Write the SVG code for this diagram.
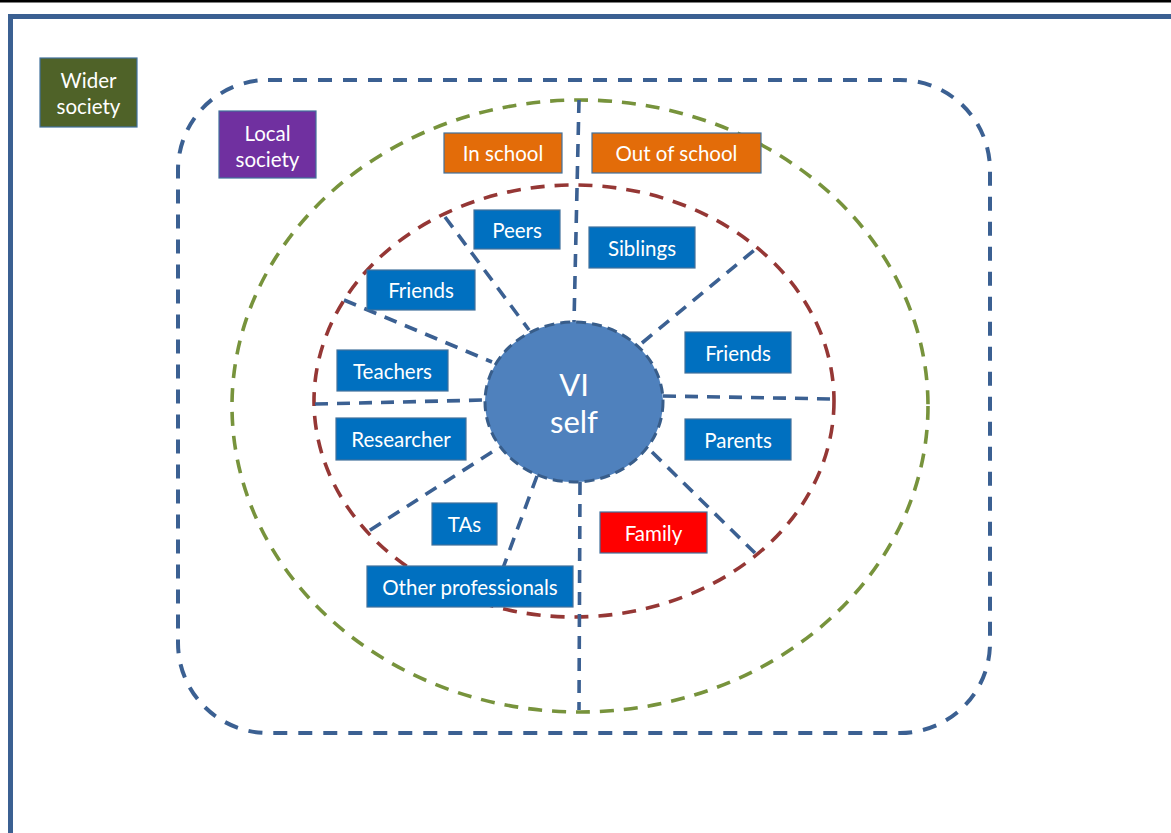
<svg xmlns="http://www.w3.org/2000/svg" width="1171" height="833" viewBox="0 0 1171 833">
<style>
.box{stroke:#41719C;stroke-width:1.2}
.blue{fill:#0070C0}
.lbl{font-family:Lato,"Open Sans","Liberation Sans",sans-serif;font-size:20.5px;fill:#fff;text-anchor:middle;dominant-baseline:central}
.big{font-size:31px}
.spoke{stroke:#3B6092;stroke-width:3.6;stroke-dasharray:13 9;fill:none}
</style>
<rect width="1171" height="833" fill="#fff"/>
<rect x="0" y="0" width="1171" height="2.5" fill="#000"/>
<rect x="10.5" y="16.5" width="1300" height="900" fill="none" stroke="#3B6092" stroke-width="5"/>

<g id="rings">
<rect x="178" y="80" width="812" height="653" rx="90" ry="90" fill="none" stroke="#3B6092" stroke-width="4" stroke-dasharray="14 11"/>
<ellipse cx="580" cy="406" rx="348" ry="306" fill="none" stroke="#77933C" stroke-width="3.6" stroke-dasharray="14 10"/>
<ellipse cx="574" cy="401" rx="260" ry="216" fill="none" stroke="#953735" stroke-width="3.6" stroke-dasharray="14 10"/>
</g>

<g id="connectors">
<line class="spoke" x1="579" y1="100" x2="574" y2="322"/>
<line class="spoke" x1="580" y1="482" x2="579" y2="710"/>
<line class="spoke" x1="315" y1="404" x2="485" y2="400"/>
<line class="spoke" x1="663" y1="396" x2="834" y2="399"/>
<line class="spoke" x1="445" y1="217" x2="529" y2="330"/>
<line class="spoke" x1="344" y1="300" x2="492" y2="362"/>
<line class="spoke" x1="642" y1="343" x2="758" y2="247"/>
<line class="spoke" x1="652" y1="452" x2="755" y2="553"/>
<line class="spoke" x1="492" y1="452" x2="367" y2="532"/>
<line class="spoke" x1="537" y1="476" x2="503" y2="568"/>
</g>

<g id="vi-self">
<ellipse cx="574" cy="402" rx="89" ry="80" fill="#4F81BD" stroke="#385D8A" stroke-width="3" stroke-dasharray="10 6"/>
<text x="574" y="384" class="lbl big">VI</text>
<text x="574" y="421" class="lbl big">self</text>
</g>

<g id="wider-society">
<rect class="box" x="40" y="58" width="97" height="69" fill="#4F6228"/>
<text x="88.5" y="80" class="lbl">Wider</text>
<text x="88.5" y="106" class="lbl">society</text>
</g>
<g id="local-society">
<rect class="box" x="219" y="111" width="97" height="67" fill="#7030A0"/>
<text x="267.5" y="133" class="lbl">Local</text>
<text x="267.5" y="159" class="lbl">society</text>
</g>
<g id="in-school">
<rect class="box" x="444" y="133" width="118" height="40" fill="#E36C09"/>
<text x="503" y="153" class="lbl">In school</text>
</g>
<g id="out-of-school">
<rect class="box" x="592" y="133" width="169" height="40" fill="#E36C09"/>
<text x="676.5" y="153" class="lbl">Out of school</text>
</g>
<g id="peers">
<rect class="box blue" x="474" y="210" width="86" height="39"/>
<text x="517" y="229.5" class="lbl">Peers</text>
</g>
<g id="siblings">
<rect class="box blue" x="589" y="227" width="106" height="41"/>
<text x="642" y="247.5" class="lbl">Siblings</text>
</g>
<g id="friends-school">
<rect class="box blue" x="367" y="270" width="108" height="40"/>
<text x="421" y="290" class="lbl">Friends</text>
</g>
<g id="teachers">
<rect class="box blue" x="337" y="350" width="111" height="41"/>
<text x="392.5" y="370.5" class="lbl">Teachers</text>
</g>
<g id="researcher">
<rect class="box blue" x="336" y="418" width="130" height="42"/>
<text x="401" y="439" class="lbl">Researcher</text>
</g>
<g id="friends-out">
<rect class="box blue" x="685" y="332" width="106" height="41"/>
<text x="738" y="352.5" class="lbl">Friends</text>
</g>
<g id="parents">
<rect class="box blue" x="685" y="419" width="106" height="41"/>
<text x="738" y="439.5" class="lbl">Parents</text>
</g>
<g id="tas">
<rect class="box blue" x="432" y="503" width="65" height="42"/>
<text x="464.5" y="524" class="lbl">TAs</text>
</g>
<g id="family">
<rect class="box" x="600" y="512" width="107" height="41" fill="#FF0000"/>
<text x="653.5" y="532.5" class="lbl">Family</text>
</g>
<g id="other-professionals">
<rect class="box blue" x="367" y="566" width="206" height="41"/>
<text x="470" y="586.5" class="lbl">Other professionals</text>
</g>
</svg>
